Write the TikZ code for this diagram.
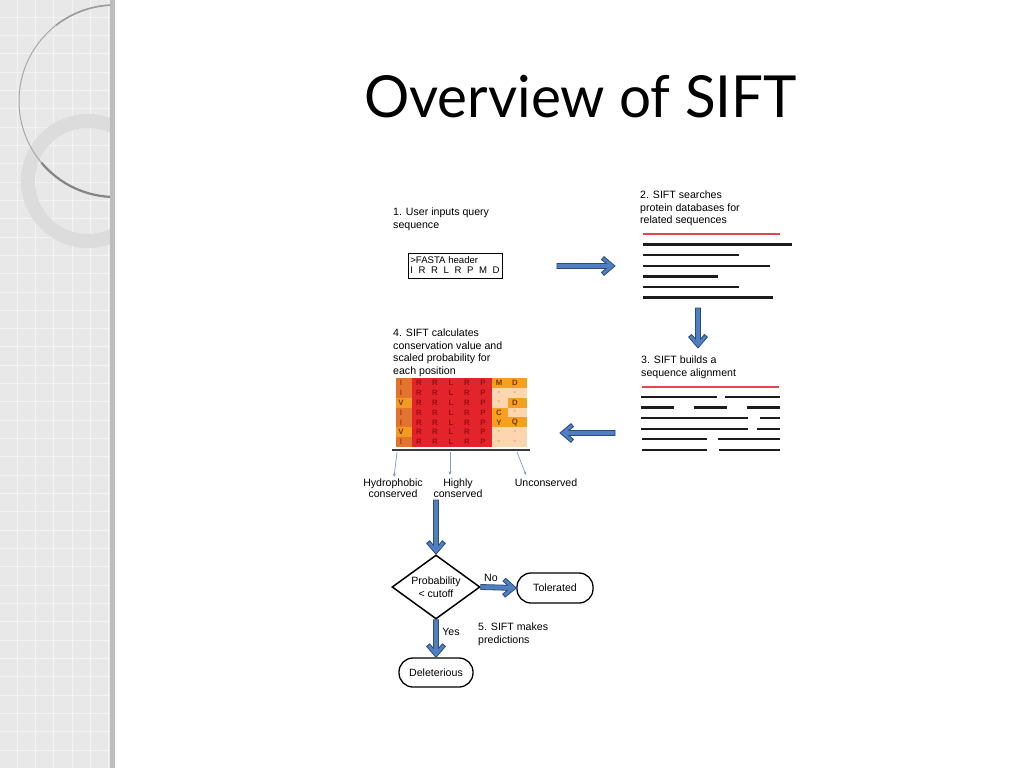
\documentclass[tikz,border=0pt]{standalone}
\usepackage{fontspec}
\setmainfont{Liberation Sans}
\newfontfamily\titlefont{Lato}
\usetikzlibrary{shapes.geometric,calc,arrows.meta}
\definecolor{bgrid}{HTML}{E8E8E8}
\definecolor{gline}{HTML}{F3F3F3}
\definecolor{barc}{HTML}{BDBDBD}
\definecolor{ringc}{HTML}{DCDCDC}
\definecolor{circc}{HTML}{A8A8A8}
\definecolor{circd}{HTML}{858585}
\definecolor{arrfill}{HTML}{4F7FC0}
\definecolor{arrdraw}{HTML}{2B4C7E}
\definecolor{redln}{HTML}{E2474C}
\definecolor{blkln}{HTML}{1C1C1C}
\definecolor{cI}{HTML}{E2742F}
\definecolor{cV}{HTML}{F39A22}
\definecolor{tI}{HTML}{A83A0E}
\definecolor{tV}{HTML}{6A3A00}
\definecolor{co}{HTML}{F5A01E}
\definecolor{cp}{HTML}{FBD6AF}
\definecolor{to}{HTML}{7A3A00}
\definecolor{tp}{HTML}{E09A60}
\definecolor{cred}{HTML}{E3242B}
\definecolor{tred}{HTML}{961016}
\definecolor{thinarr}{HTML}{7B9BD0}
\definecolor{baseln}{HTML}{3A3A3A}
\newcommand\gapp{\hspace{5.6pt}}
\newcommand\blockarrow[2]{%
  \path let \p1=($(#2)-(#1)$) in \pgfextra{%
    \pgfmathsetmacro\tmpang{atan2(\y1,\x1)}\global\let\baang\tmpang
    \pgfmathsetmacro\tmplen{veclen(\x1,\y1)}\global\let\balen\tmplen};
  \begin{scope}[shift={(#2)},rotate=\baang]
    \filldraw[barrow] (-\balen pt,2.5pt) -- (-8.9pt,2.5pt) -- (-13.5pt,6.4pt) -- (-11pt,9.4pt) -- (0pt,0pt) -- (-11pt,-9.4pt) -- (-13.5pt,-6.4pt) -- (-8.9pt,-2.5pt) -- (-\balen pt,-2.5pt) -- cycle;
  \end{scope}}
\begin{document}
\begin{tikzpicture}[x=1pt,y=-1pt,
  lbl/.style={inner sep=0pt, align=left, anchor=north west, font=\fontsize{10.6}{12.5}\selectfont},
  clbl/.style={inner sep=0pt, align=center, anchor=north, font=\fontsize{10.6}{10.5}\selectfont},
  barrow/.style={fill=arrfill, draw=arrdraw, line width=0.8pt, line join=miter},
  seqred/.style={draw=redln, line width=2pt},
  seqblk/.style={draw=blkln, line width=2.4pt},
  cellletter/.style={inner sep=0pt, font=\bfseries\fontsize{7.8}{7.8}\selectfont},
  term/.style={draw, line width=1.3pt, rounded corners=14pt, minimum width=76pt, minimum height=30pt, inner sep=0pt, font=\fontsize{10.6}{12.5}\selectfont},
  smallarr/.style={draw=thinarr, line width=0.7pt, -{Stealth[length=3.5pt,width=3pt]}}]
\useasboundingbox (0,0) rectangle (1024,768);
\fill[white] (0,0) rectangle (1024,768);
% left decoration
\begin{scope}
  \clip (0,0) rectangle (110,768);
  \fill[bgrid] (0,0) rectangle (110,768);
  \foreach \gx in {17,35.33,...,110} \draw[gline,line width=0.9pt] (\gx,0) -- (\gx,768);
  \foreach \gy in {17,35.33,...,768} \draw[gline,line width=0.9pt] (0,\gy) -- (110,\gy);
  \fill[ringc, even odd rule] (88,181) circle[radius=67] (88,181) circle[radius=53];
  \draw[circc, line width=1pt] (115,5) arc[start angle=270, end angle=90, radius=96];
  \draw[circd!80!white, line width=1.6pt] (115,5) arc[start angle=270, end angle=232, radius=96];
  \draw[circd, line width=2.2pt] (115,197) arc[start angle=90, end angle=140, radius=96];
\end{scope}
\fill[barc] (110,0) rectangle (114.5,768);
% title
\node[inner sep=0pt, anchor=base west, xscale=0.975, font=\titlefont\fontsize{58}{58}\selectfont] (title) at (364,117) {Overview of SIFT};
% step 1
\node[lbl] (s1) at (393,208) {1. User inputs query\\sequence};
\node[draw, line width=0.9pt, minimum width=94pt, minimum height=25pt, inner sep=0pt, align=left, font=\fontsize{9.6}{10}\selectfont] (fasta) at (455,265.5) {>FASTA header\\I\gapp R\gapp R\gapp L\gapp R\gapp P\gapp M\gapp D};
% step 2
\node[lbl] (s2) at (640,191) {2. SIFT searches\\protein databases for\\related sequences};
\draw[seqred] (643,234) -- (780,234);
\draw[seqblk] (643,244.3) -- (792,244.3);
\draw[seqblk] (643,255) -- (739,255);
\draw[seqblk] (643,265.7) -- (770,265.7);
\draw[seqblk] (643,276.3) -- (718,276.3);
\draw[seqblk] (643,286.7) -- (739,286.7);
\draw[seqblk] (643,297.3) -- (773,297.3);
% step 3
\node[lbl] (s3) at (641,356) {3. SIFT builds a\\sequence alignment};
\draw[seqred] (642,387) -- (779,387);
\draw[seqblk] (641,396.7) -- (717,396.7) (725,396.7) -- (780,396.7);
\draw[seqblk] (641,407.3) -- (674,407.3) (694,407.3) -- (727,407.3) (747,407.3) -- (780,407.3);
\draw[seqblk] (641,417.7) -- (748,417.7) (760,417.7) -- (780,417.7);
\draw[seqblk] (641,428.7) -- (748,428.7) (757,428.7) -- (780,428.7);
\draw[seqblk] (642,439) -- (707,439) (718,439) -- (780,439);
\draw[seqblk] (642,450) -- (707,450) (719,450) -- (780,450);
% step 4
\node[lbl] (s4) at (393,329) {4. SIFT calculates\\conservation value and\\scaled probability for\\each position};
\fill[cred] (412,378) rectangle (492,447);
\foreach \a/\m/\mc/\d/\dc [count=\i from 0] in {I/M/o/D/o, I/-/p/-/p, V/-/p/D/o, I/C/o/-/p, I/Y/o/Q/o, V/-/p/-/p, I/-/p/-/p} {
  \pgfmathsetmacro\yt{378+\i*9.857}
  \pgfmathsetmacro\yc{\yt+4.93}
  \fill[c\a] (396,\yt) rectangle (412,\yt+9.9);
  \fill[c\mc] (492,\yt) rectangle (508,\yt+9.9);
  \fill[c\dc] (508,\yt) rectangle (527,\yt+9.9);
  \node[cellletter, text=t\a] (g\i-0) at (401,\yc) {\a};
  \node[cellletter, text=tred] (g\i-1) at (419,\yc) {R};
  \node[cellletter, text=tred] (g\i-2) at (435,\yc) {R};
  \node[cellletter, text=tred] (g\i-3) at (451,\yc) {L};
  \node[cellletter, text=tred] (g\i-4) at (467,\yc) {R};
  \node[cellletter, text=tred] (g\i-5) at (483,\yc) {P};
  \node[cellletter, text=t\mc] (g\i-6) at (499,\yc) {\m};
  \node[cellletter, text=t\dc] (g\i-7) at (515,\yc) {\d};
}
\draw[baseln, line width=2.5pt] (392,450) -- (530,450);
\coordinate (ha0) at (397,452); \coordinate (ha1) at (394,477);
\coordinate (hb0) at (450,452); \coordinate (hb1) at (450,475);
\coordinate (hc0) at (517,452); \coordinate (hc1) at (526,475);
\draw[smallarr] (ha0) -- (ha1);
\draw[smallarr] (hb0) -- (hb1);
\draw[smallarr] (hc0) -- (hc1);
\node[clbl] (hyd) at (393,479) {Hydrophobic\\conserved};
\node[clbl] (hic) at (458,479) {Highly\\conserved};
\node[clbl] (unc) at (546,479) {Unconserved};
% flowchart
\node[draw, diamond, aspect=1.375, minimum width=88pt, minimum height=64pt, inner sep=0pt, line width=1.5pt, align=center, font=\fontsize{10.6}{13}\selectfont] (dia) at (436,587) {Probability\\< cutoff};
\node[term] (tol) at (555,588) {Tolerated};
\node[term, minimum width=74pt, minimum height=29pt] (del) at (436,672.5) {Deleterious};
\node[inner sep=0pt, font=\fontsize{10.6}{12.5}\selectfont] (no) at (491,578) {No};
\node[inner sep=0pt, font=\fontsize{10.6}{12.5}\selectfont] (yes) at (451,632) {Yes};
\node[lbl] (s5) at (478,623) {5. SIFT makes\\predictions};
% block arrows
\coordinate (a1s) at (557,266); \coordinate (a1e) at (615,266);
\coordinate (a2s) at (698,308); \coordinate (a2e) at (698,348);
\coordinate (a3s) at (615,433); \coordinate (a3e) at (560,433);
\coordinate (gd) at (436,500);
\blockarrow{a1s}{a1e}
\blockarrow{a2s}{a2e}
\blockarrow{a3s}{a3e}
\blockarrow{gd}{dia.north}
\blockarrow{dia.east}{tol.west}
\blockarrow{dia.south}{del.north}
\end{tikzpicture}
\end{document}
